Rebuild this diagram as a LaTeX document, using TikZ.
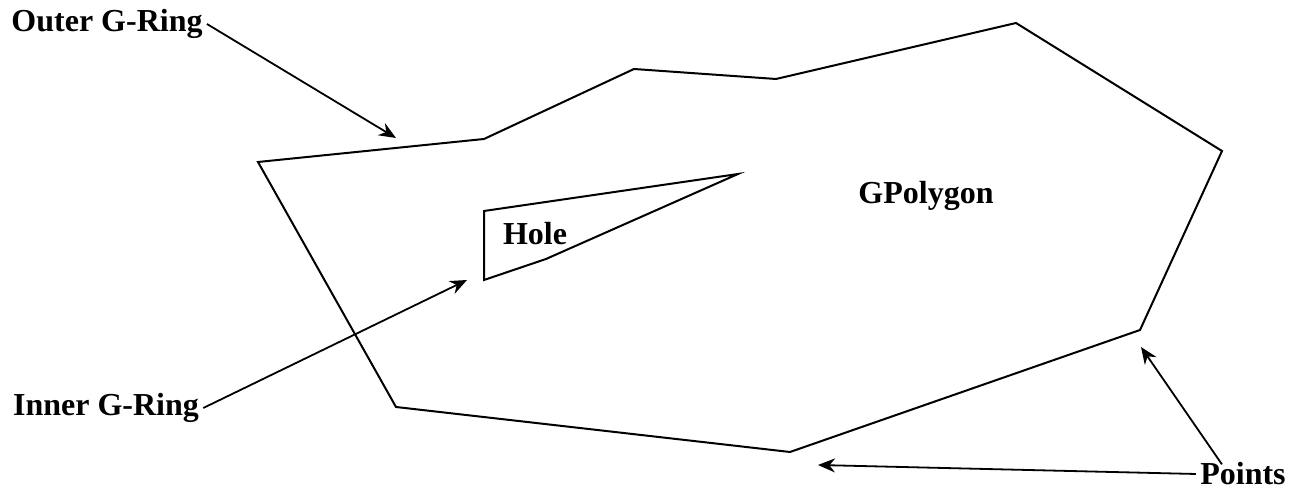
\documentclass[tikz,border=0pt]{standalone}
\usepackage{fontspec}
\setmainfont{Liberation Serif}
\usetikzlibrary{arrows.meta}

\begin{document}
\begin{tikzpicture}[
		x=0.5pt, y=-0.5pt,
		>={Stealth[length=8.5pt, width=7pt]},
		font=\fontsize{16}{18}\selectfont\bfseries,
		ring/.style={line width=1pt, line join=miter},
		pointer/.style={->, line width=0.9pt},
		tag/.style={inner sep=2pt}
		]
		
		\useasboundingbox (0,0) rectangle (1292,490);
		
		% ==========================================
		% Outer ring
		% ==========================================
		\coordinate (o1) at (258,162);
		\coordinate (o2) at (484,139);
		\coordinate (o3) at (634,69);
		\coordinate (o4) at (776,79);
		\coordinate (o5) at (1016,23);
		\coordinate (o6) at (1222,151);
		\coordinate (o7) at (1140,330);
		\coordinate (o8) at (790,452);
		\coordinate (o9) at (396,407);
		\draw[ring] (o1) -- (o2) -- (o3) -- (o4) -- (o5) -- (o6) -- (o7) -- (o8) -- (o9) -- cycle;
		
		% ==========================================
		% Inner ring (hole)
		% ==========================================
		\coordinate (h1) at (484,211);
		\coordinate (h2) at (738,174);
		\coordinate (h3) at (546,259);
		\coordinate (h4) at (484,280);
		\draw[ring] (h1) -- (h2) -- (h3) -- (h4) -- cycle;
		
		% Labels
		\node (gpolygon) at (926,196) {GPolygon};
		\node (hole) at (535,234) {Hole};
		\node[tag] (outer) at (107,24) {Outer G-Ring};
		\node[tag] (inner) at (106,408) {Inner G-Ring};
		\node[tag] (points) at (1243,474) {Points};
		
		% Arrow targets
		\coordinate (outertip) at (396,138);
		\coordinate (innertip) at (467,280);
		\coordinate (pointtipa) at (818,465);
		\coordinate (pointtipb) at (1141,347);
		
		\draw[pointer] (outer.east) -- (outertip);
		\draw[pointer] (inner.east) -- (innertip);
		\draw[pointer] (points.west) -- (pointtipa);
		\draw[pointer] ([xshift=13pt, yshift=-3pt]points.north west) -- (pointtipb);
		
	\end{tikzpicture}
\end{document}
